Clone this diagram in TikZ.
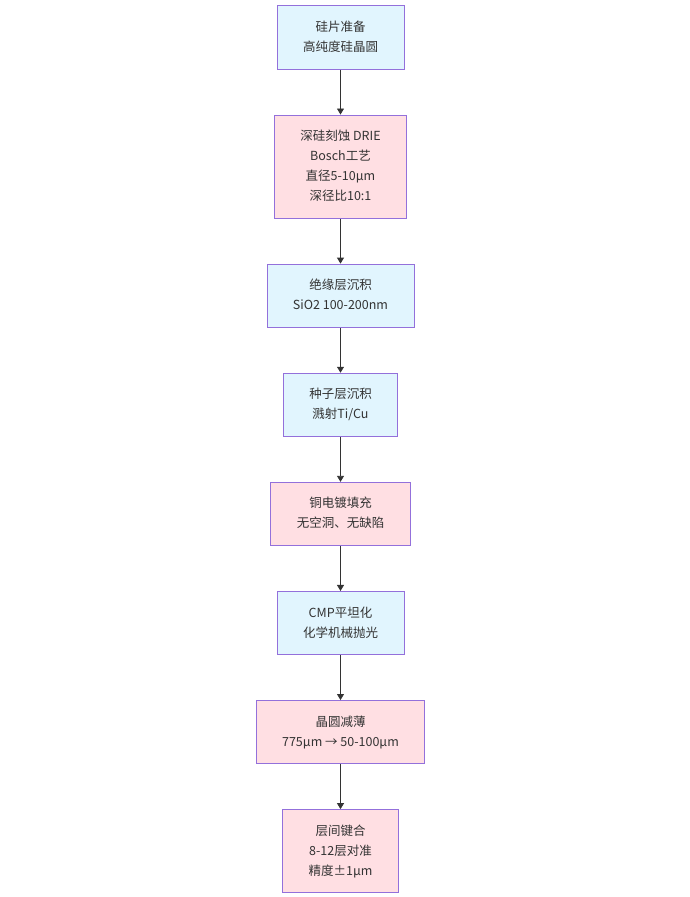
\documentclass[tikz,border=0pt]{standalone}
\usepackage{fontspec}
\setmainfont{Noto Sans CJK SC}
\usetikzlibrary{positioning,arrows.meta}
\definecolor{bluefill}{HTML}{E1F5FE}
\definecolor{pinkfill}{HTML}{FFDFE3}
\definecolor{boxline}{HTML}{9370DB}
\definecolor{textgray}{HTML}{333333}
\begin{document}
\begin{tikzpicture}[x=1pt,y=1pt,
    stepbox/.style={draw=boxline,line width=0.9pt,align=center,text=textgray,
        inner xsep=26pt,inner ysep=11.6pt,font=\fontsize{12.5}{20}\selectfont},
    blue/.style={stepbox,fill=bluefill},
    pink/.style={stepbox,fill=pinkfill},
    flow/.style={draw=textgray,line width=0.8pt,-{Triangle[width=7pt,length=6pt]}},
    node distance=45pt]
    \useasboundingbox (0,0) rectangle (690,-897);
    \node[blue] (wafer) at (340.5,-37.5) {\strut 硅片准备\\\strut 高纯度硅晶圆};
    \node[pink,below=of wafer] (etch) {\strut 深硅刻蚀 DRIE\\\strut Bosch工艺\\\strut 直径5-10μm\\\strut 深径比10:1};
    \node[blue,below=of etch] (liner) {\strut 绝缘层沉积\\\strut SiO2 100-200nm};
    \node[blue,below=of liner] (seed) {\strut 种子层沉积\\\strut 溅射Ti/Cu};
    \node[pink,below=of seed] (plating) {\strut 铜电镀填充\\\strut 无空洞、无缺陷};
    \node[blue,below=of plating] (cmp) {\strut CMP平坦化\\\strut 化学机械抛光};
    \node[pink,below=of cmp] (thinning) {\strut 晶圆减薄\\\strut 775μm → 50-100μm};
    \node[pink,below=of thinning] (bonding) {\strut 层间键合\\\strut 8-12层对准\\\strut 精度±1μm};
    \foreach \a/\b in {wafer/etch,etch/liner,liner/seed,seed/plating,plating/cmp,cmp/thinning,thinning/bonding}
        \draw[flow] (\a) -- (\b);
\end{tikzpicture}
\end{document}
